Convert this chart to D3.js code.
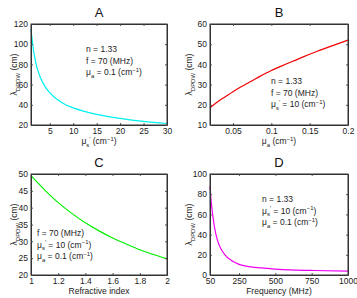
<!DOCTYPE html>
<html>
<head>
<meta charset="utf-8">
<script src="https://cdn.jsdelivr.net/npm/d3@7"></script>
<style>
  body { margin: 0; background: #fff; }
  svg { font-family: "Liberation Sans", Arial, sans-serif; }
</style>
</head>
<body>
<div id="chart"></div>
<script>
// Panel A: wavelength vs reduced scattering
const musA = [1, 1.5, 2, 3, 4, 5, 6, 7, 8, 10, 12, 15, 20, 25, 30];
const lamA = [115, 95, 82, 67, 58, 52, 47.5, 44, 41, 37, 34, 30.5, 26.5, 23.5, 21.5];

// Panel B: wavelength vs absorption
const muaB = [0.02, 0.03, 0.04, 0.05, 0.06, 0.08, 0.1, 0.12, 0.14, 0.16, 0.18, 0.2];
const lamB = [18.5, 21.5, 24, 26.5, 28.8, 33, 37, 40.3, 43.5, 46.5, 49.3, 52];

// Panel C: wavelength vs refractive index
const nC = [1, 1.1, 1.2, 1.3, 1.4, 1.5, 1.6, 1.7, 1.8, 1.9, 2];
const lamC = [49.5, 45.3, 41.5, 38.3, 35.5, 33.1, 31, 29.2, 27.5, 26.1, 24.8];

// Panel D: wavelength vs modulation frequency
const fD = [50, 55, 60, 70, 80, 100, 125, 150, 200, 250, 300, 400, 500, 600, 750, 1000];
const lamD = [88, 78, 70, 58, 48, 35, 26, 20.5, 14, 10.5, 8.8, 7, 5.8, 5, 4.5, 3.8];

// tick labels
const ticksA = { x: [5, 10, 15, 20, 25, 30], y: [20, 40, 60, 80, 100, 120] };
const ticksB = { x: [0.05, 0.1, 0.15, 0.2], y: [10, 20, 30, 40, 50, 60] };
const ticksC = { x: [1, 1.2, 1.4, 1.6, 1.8, 2], y: [20, 25, 30, 35, 40, 45, 50] };
const ticksD = { x: [50, 250, 500, 750, 1000], y: [0, 20, 40, 60, 80, 100] };

const svg = d3.select('#chart').append('svg')
  .attr('width', 357)
  .attr('height', 298);

// helper to write text with sub/superscripts: parts = [[text, 'n'|'sub'|'sup'], ...]
function richText(sel, parts, size) {
  let shift = 0;
  parts.forEach(([t, kind]) => {
    let target = 0;
    if (kind === 'sub') target = size * 0.35;
    if (kind === 'sup') target = -size * 0.4;
    sel.append('tspan')
      .attr('dy', target - shift)
      .attr('font-size', kind === 'n' ? size : size * 0.7)
      .text(t);
    shift = target;
  });
}

const muS = [['μ', 'n'], ['s', 'sub'], ['\u2032', 'sup'], [' = 10 (cm', 'n'], ['−1', 'sup'], [')', 'n']];
const muA = [['μ', 'n'], ['a', 'sub'], [' = 0.1 (cm', 'n'], ['−1', 'sup'], [')', 'n']];
const nLine = [['n = 1.33', 'n']];
const fLine = [['f = 70 (MHz)', 'n']];

function drawPanel(o) {
  const x = d3.scaleLinear().domain(o.xDomain).range([o.left, o.right]);
  const y = d3.scaleLinear().domain(o.yDomain).range([o.bottom, o.top]);
  const g = svg.append('g');

  // curve
  const pts = o.xs.map((v, i) => [v, o.ys[i]]);
  g.append('path')
    .datum(pts)
    .attr('fill', 'none')
    .attr('stroke', o.color)
    .attr('stroke-width', 1.2)
    .attr('d', d3.line().curve(d3.curveMonotoneX).x(d => x(d[0])).y(d => y(d[1])));

  // axes with inward ticks, mirrored on top/right
  const fmt = d3.format('~g');
  g.append('g').attr('transform', `translate(0,${o.bottom})`)
    .call(d3.axisBottom(x).tickValues(o.ticks.x).tickSizeInner(-2).tickSizeOuter(0).tickPadding(3).tickFormat(fmt));
  g.append('g').attr('transform', `translate(0,${o.top})`)
    .call(d3.axisTop(x).tickValues(o.ticks.x).tickSizeInner(-2).tickSizeOuter(0).tickFormat(''));
  g.append('g').attr('transform', `translate(${o.left},0)`)
    .call(d3.axisLeft(y).tickValues(o.ticks.y).tickSizeInner(-2).tickSizeOuter(0).tickPadding(3).tickFormat(fmt));
  g.append('g').attr('transform', `translate(${o.right},0)`)
    .call(d3.axisRight(y).tickValues(o.ticks.y).tickSizeInner(-2).tickSizeOuter(0).tickFormat(''));
  g.selectAll('.domain').attr('stroke', '#333');
  g.selectAll('.tick line').attr('stroke', '#555');
  g.selectAll('.tick text').attr('font-size', 8.5).attr('fill', '#222')
    .attr('font-family', '"Liberation Sans", Arial, sans-serif');

  // frame
  g.append('rect')
    .attr('x', o.left).attr('y', o.top)
    .attr('width', o.right - o.left).attr('height', o.bottom - o.top)
    .attr('fill', 'none').attr('stroke', '#333').attr('stroke-width', 1);

  // title
  g.append('text')
    .attr('x', (o.left + o.right) / 2).attr('y', o.top - 7)
    .attr('text-anchor', 'middle').attr('font-size', 13).attr('fill', '#111')
    .text(o.title);

  // y label
  const yl = g.append('text')
    .attr('transform', `translate(${o.left - o.yLabOff},${(o.top + o.bottom) / 2}) rotate(-90)`)
    .attr('text-anchor', 'middle').attr('fill', '#222');
  richText(yl, [['λ', 'n'], ['DPDW', 'sub'], [' (cm)', 'n']], 8.5);

  // x label
  const xl = g.append('text')
    .attr('x', (o.left + o.right) / 2).attr('y', o.bottom + 19)
    .attr('text-anchor', 'middle').attr('fill', '#222');
  richText(xl, o.xLabel, 8.5);

  // annotations
  o.notes.forEach((parts, i) => {
    const t = g.append('text')
      .attr('x', o.noteX).attr('y', o.noteY + i * 11.5)
      .attr('fill', '#222');
    richText(t, parts, 8.5);
  });
}

drawPanel({
  title: 'A', left: 31, right: 167, top: 24, bottom: 125, yLabOff: 14,
  xDomain: [1, 30], yDomain: [20, 120], ticks: ticksA,
  xs: musA, ys: lamA, color: '#00f0f0',
  xLabel: [['μ', 'n'], ['s', 'sub'], ['\u2032', 'sup'], [' (cm', 'n'], ['−1', 'sup'], [')', 'n']],
  notes: [nLine, fLine, muA], noteX: 86, noteY: 52
});

drawPanel({
  title: 'B', left: 210, right: 348, top: 24, bottom: 125, yLabOff: 18,
  xDomain: [0.02, 0.2], yDomain: [10, 60], ticks: ticksB,
  xs: muaB, ys: lamB, color: '#f00000',
  xLabel: [['μ', 'n'], ['a', 'sub'], [' (cm', 'n'], ['−1', 'sup'], [')', 'n']],
  notes: [nLine, fLine, muS], noteX: 271, noteY: 84
});

drawPanel({
  title: 'C', left: 31, right: 167, top: 174, bottom: 275, yLabOff: 14,
  xDomain: [1, 2], yDomain: [20, 50], ticks: ticksC,
  xs: nC, ys: lamC, color: '#00f000',
  xLabel: [['Refractive index', 'n']],
  notes: [fLine, muS, muA], noteX: 37, noteY: 236
});

drawPanel({
  title: 'D', left: 210, right: 348, top: 174, bottom: 275, yLabOff: 18,
  xDomain: [50, 1000], yDomain: [0, 100], ticks: ticksD,
  xs: fD, ys: lamD, color: '#f000f0',
  xLabel: [['Frequency (MHz)', 'n']],
  notes: [nLine, muS, muA], noteX: 262, noteY: 202
});
</script>
</body>
</html>
